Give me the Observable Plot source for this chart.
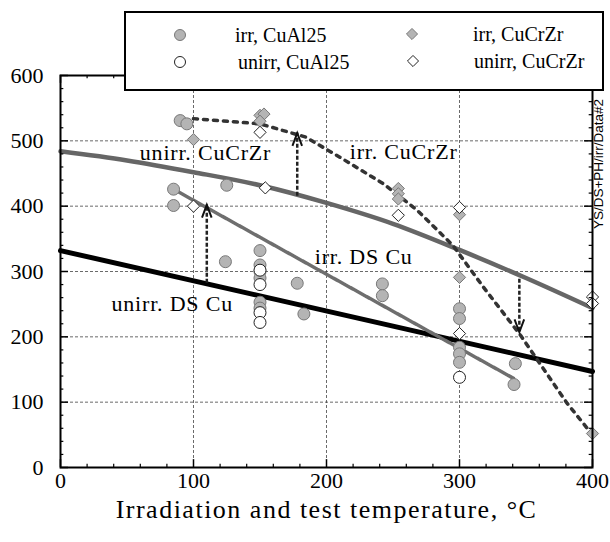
<!DOCTYPE html>
<html><head><meta charset="utf-8">
<script src="https://cdn.jsdelivr.net/npm/d3@7"></script>
<script src="https://cdn.jsdelivr.net/npm/@observablehq/plot@0.6"></script>
<style>body{margin:0;background:#fff}#chart{width:610px;height:542px}</style>
</head><body><div id="chart"></div>
<script>
// ---- data (temperature °C, yield strength MPa) ----
const irrCuAl25 = [[85,426],[85,401],[90,531],[95,526],[125,432],[124,315],[150,332],[150,310],[150,300],[150,290],[150,253],[150,244],[178,282],[183,235],[242,281],[242,263],[300,243],[300,228],[300,184],[300,174],[300,161],[342,159],[341,127]];
const unirrCuAl25 = [[150,302],[150,280],[150,237],[150,222],[300,138]];
const irrCuCrZr = [[100,502],[150,539],[153,541],[150,530],[254,427],[254,419],[254,411],[300,387],[300,291],[400,52]];
const unirrCuCrZr = [[100,400],[150,513],[154,428],[254,386],[300,398],[300,205],[400,261],[400,251]];
const lineUnirrDSCu = [[0,332],[400,147]];
const lineUnirrCuCrZr = [[0,484],[50,470],[100,452],[150,432],[200,405],[250,373],[300,333],[350,290],[400,244]];
const lineIrrDSCu = [[85,426],[341,136]];
const lineIrrCuCrZr = [[100,534],[150,526],[184,506],[210,475],[243,434],[268,394],[295,340],[318,276],[346,202],[381,98],[400,50]];
const arrows = [{x:110,from:282,to:402},{x:178,from:415,to:512},{x:345,from:288,to:207}];
const curveLabels = [{x:109,y:482,text:"unirr. CuCrZr"},{x:258,y:483,text:"irr. CuCrZr"},{x:228,y:322,text:"irr. DS Cu"},{x:84,y:251,text:"unirr. DS Cu"}];
const xTicks = [0,100,200,300,400];
const yTicks = [0,100,200,300,400,500,600];
const xGrid = [100,200,300];
const yGrid = [100,200,300,400,500];
const xMinor = [20,40,60,80,120,140,160,180,220,240,260,280,320,340,360,380];
const yMinor = [20,40,60,80,120,140,160,180,220,240,260,280,320,340,360,380,420,440,460,480,520,540,560,580];
const xTitle = "Irradiation and test temperature, °C";
const sideNote = "YS/DS+PH/irr/Data#2";
const legendItems = [
  {label:"irr, CuAl25", kind:"circle", filled:true},
  {label:"unirr, CuAl25", kind:"circle", filled:false},
  {label:"irr, CuCrZr", kind:"diamond", filled:true},
  {label:"unirr, CuCrZr", kind:"diamond", filled:false}
];

const SERIF = "'Liberation Serif', 'Times New Roman', serif";
const GRAYF = "#b4b4b4", GRAYS = "#787878";
const chevron = {draw(ctx, size){ const r = Math.sqrt(size/Math.PI); ctx.moveTo(-0.6*r, 1.6*r); ctx.lineTo(0,0); ctx.lineTo(0.6*r, 1.6*r); }};

const plot = Plot.plot({
  width: 610, height: 542,
  marginLeft: 60, marginRight: 18, marginTop: 75, marginBottom: 75,
  style: {fontFamily: SERIF, fontSize: "22px", color: "black", background: "white"},
  x: {domain: [0, 400]},
  y: {domain: [0, 600]},
  marks: [
    Plot.ruleX(xGrid, {stroke: "#444", strokeWidth: 0.8, strokeDasharray: "3,2"}),
    Plot.ruleY(yGrid, {stroke: "#444", strokeWidth: 0.8, strokeDasharray: "3,2"}),
    Plot.line(lineUnirrDSCu, {x: d=>d[0], y: d=>d[1], stroke: "black", strokeWidth: 5}),
    Plot.line(lineUnirrCuCrZr, {x: d=>d[0], y: d=>d[1], stroke: "#666", strokeWidth: 4.5, curve: "monotone-x"}),
    Plot.line(lineIrrDSCu, {x: d=>d[0], y: d=>d[1], stroke: "#6e6e6e", strokeWidth: 3.5, strokeDasharray: "1.5,1"}),
    Plot.line(lineIrrCuCrZr, {x: d=>d[0], y: d=>d[1], stroke: "#333", strokeWidth: 3.5, strokeDasharray: "4,6"}),
    Plot.dot(irrCuAl25, {x: d=>d[0], y: d=>d[1], r: 6, fill: GRAYF, stroke: GRAYS, strokeWidth: 1}),
    Plot.dot(unirrCuAl25, {x: d=>d[0], y: d=>d[1], r: 6, fill: "white", stroke: "#222", strokeWidth: 1}),
    Plot.dot(irrCuCrZr, {x: d=>d[0], y: d=>d[1], r: 5.5, symbol: "diamond2", fill: GRAYF, stroke: GRAYS, strokeWidth: 1}),
    Plot.dot(unirrCuCrZr, {x: d=>d[0], y: d=>d[1], r: 5.5, symbol: "diamond2", fill: "white", stroke: "#222", strokeWidth: 1}),
    Plot.ruleX(arrows, {x: "x", y1: "from", y2: "to", stroke: "#222", strokeWidth: 2.5, strokeDasharray: "4,2"}),
    Plot.dot(arrows, {x: "x", y: "to", r: 8, symbol: chevron, fill: "none", stroke: "#111", strokeWidth: 2, rotate: d => d.to > d.from ? 0 : 180}),
    Plot.text(curveLabels, {x: "x", y: "y", text: "text", fontSize: 22, fontFamily: SERIF, fill: "black"}),
    Plot.frame({stroke: "black", strokeWidth: 2}),
    Plot.ruleX(xTicks, {y1: 0, y2: 12, stroke: "black", strokeWidth: 1.5}),
    Plot.ruleX(xMinor, {y1: 0, y2: 5, stroke: "black", strokeWidth: 1.2}),
    Plot.ruleX(xTicks, {y1: 588, y2: 600, stroke: "black", strokeWidth: 1.5}),
    Plot.ruleX(xMinor, {y1: 595, y2: 600, stroke: "black", strokeWidth: 1.2}),
    Plot.ruleY(yTicks, {x1: 0, x2: 6, stroke: "black", strokeWidth: 1.5}),
    Plot.ruleY(yMinor, {x1: 0, x2: 2.5, stroke: "black", strokeWidth: 1.2}),
    Plot.ruleY(yTicks, {x1: 394, x2: 400, stroke: "black", strokeWidth: 1.5}),
    Plot.ruleY(yMinor, {x1: 397.5, x2: 400, stroke: "black", strokeWidth: 1.2}),
    Plot.axisX({ticks: xTicks, tickSize: 0, tickPadding: 5, label: null, fontSize: 22, fontFamily: SERIF}),
    Plot.axisY({ticks: yTicks, tickSize: 0, tickPadding: 17, label: null, fontSize: 22, fontFamily: SERIF}),
    Plot.text([xTitle], {frameAnchor: "bottom", dy: 50, fontSize: 26, fontFamily: SERIF, fill: "black"})
  ]
});

const svg = d3.select(plot);
svg.selectAll("g[aria-label='text'] text").attr("letter-spacing", "0.8px");
svg.selectAll("g[aria-label='text'] text").filter(function(){ return this.textContent === xTitle; }).attr("letter-spacing", "1.5px");

// side note
svg.append("text").attr("transform", "translate(603,164) rotate(-90)")
  .attr("text-anchor", "middle").attr("font-family", "'Liberation Sans', Arial, sans-serif")
  .attr("font-size", 13.5).attr("fill", "black").text(sideNote);

// legend box overlapping the top of the plot
const lg = svg.append("g");
lg.append("rect").attr("x", 125).attr("y", 12).attr("width", 478).attr("height", 78)
  .attr("fill", "white").attr("stroke", "black").attr("stroke-width", 2);
const pos = [{sx:180, sy:35, tx:235}, {sx:180, sy:62, tx:238}, {sx:412, sy:34, tx:473}, {sx:413, sy:61, tx:474}];
legendItems.forEach((it, i) => {
  const p = pos[i];
  if (it.kind === "circle") {
    lg.append("circle").attr("cx", p.sx).attr("cy", p.sy).attr("r", 5.5)
      .attr("fill", it.filled ? GRAYF : "white").attr("stroke", it.filled ? GRAYS : "#222");
  } else {
    lg.append("path").attr("transform", `translate(${p.sx},${p.sy})`)
      .attr("d", d3.symbol(d3.symbolDiamond2, Math.PI * 5 * 5)())
      .attr("fill", it.filled ? GRAYF : "white").attr("stroke", it.filled ? GRAYS : "#222");
  }
  lg.append("text").attr("x", p.tx).attr("y", p.sy + 7).attr("font-size", 20)
    .attr("text-anchor", "start")
    .attr("font-family", SERIF).attr("fill", "black").text(it.label);
});

document.getElementById("chart").appendChild(plot);
</script>
</body></html>
